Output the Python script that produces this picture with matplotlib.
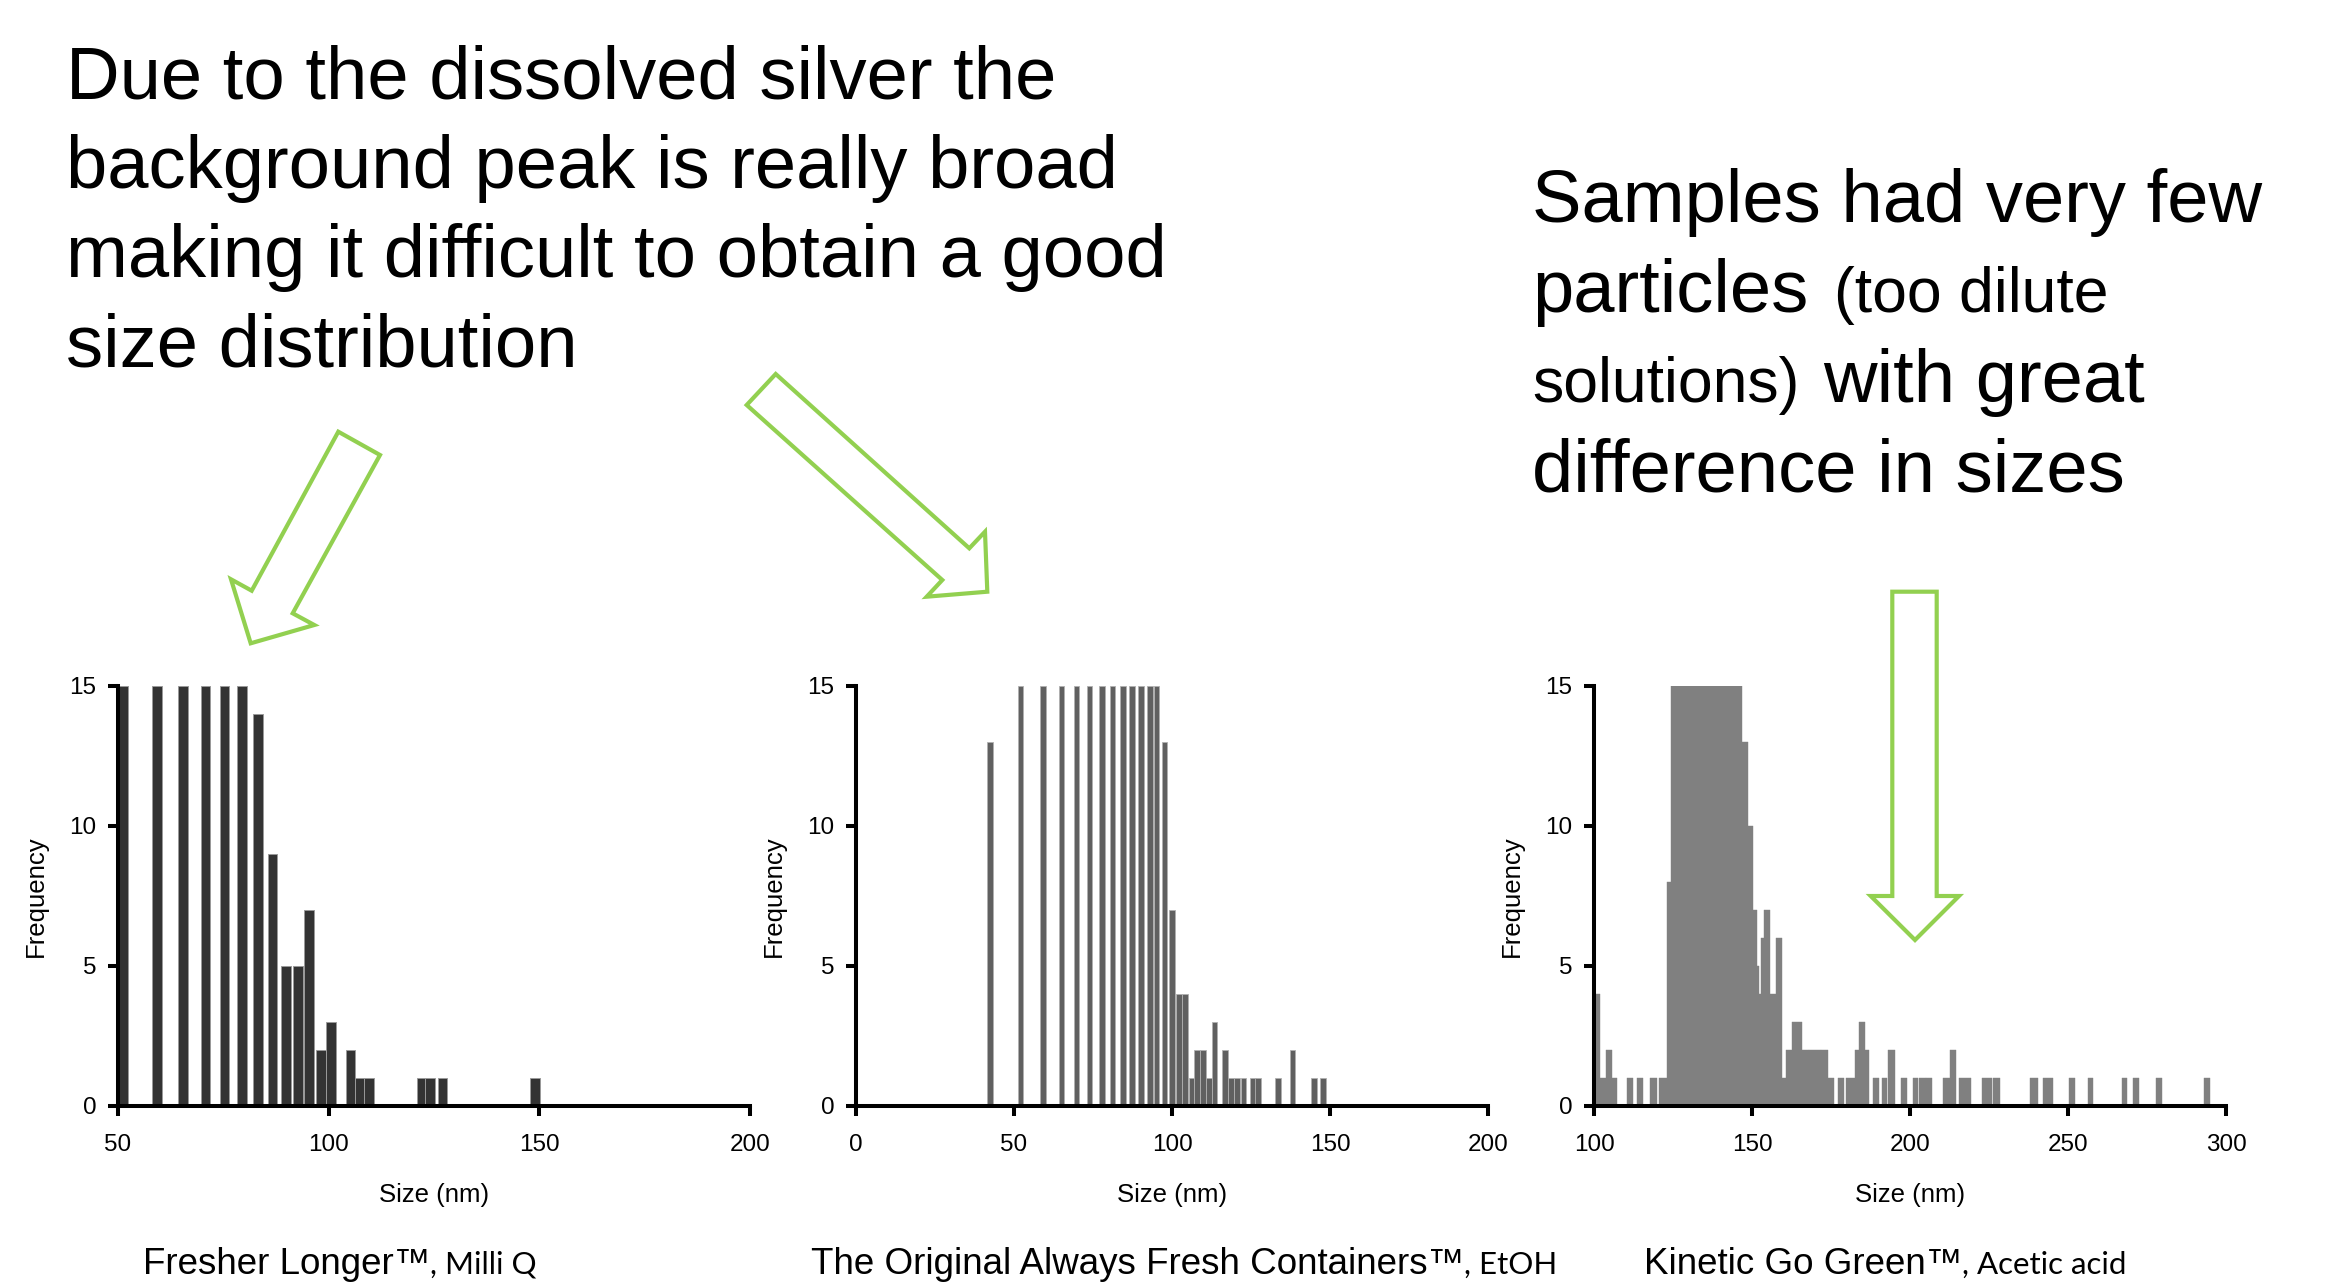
import matplotlib
matplotlib.use("Agg")
import matplotlib.pyplot as plt
from matplotlib.patches import Polygon

# ---------------- data ----------------
# Panel 1: Fresher Longer, Milli Q (bars clipped at 15)
p1_size = [51.2, 59.2, 65.5, 70.8, 75.3, 79.5, 83.3, 86.7, 89.8, 92.7, 95.4, 98.1,
           100.6, 105.2, 107.4, 109.5, 122.1, 124.1, 127.0, 148.9]
p1_freq = [15, 15, 15, 15, 15, 15, 14, 9, 5, 5, 7, 2,
           3, 2, 1, 1, 1, 1, 1, 1]
p1_binw = 2.3

# Panel 2: The Original Always Fresh Containers, EtOH
p2_size = [42.5, 52.1, 59.2, 65.0, 69.8, 73.9, 77.9, 81.2, 84.4, 87.4, 90.2, 93.0, 95.1,
           97.6, 99.9, 102.2, 104.1, 106.2, 108.0, 109.9, 111.7, 113.4, 116.7, 118.6,
           120.6, 122.6, 125.6, 127.2, 133.5, 138.1, 144.9, 147.8]
p2_freq = [13, 15, 15, 15, 15, 15, 15, 15, 15, 15, 15, 15, 15,
           13, 7, 4, 4, 1, 2, 2, 1, 3, 2, 1,
           1, 1, 1, 1, 1, 2, 1, 1]
p2_binw = 1.8

# Panel 3: Kinetic Go Green, Acetic acid (bin low / high edges in nm)
p3_lo = [100.0, 101.9, 103.7, 105.6, 110.3, 113.5, 117.7, 120.6, 123.2,
         124.5, 126.4, 128.2, 130.1, 131.9, 133.8, 135.6, 137.5, 139.3, 141.2, 143.0, 144.9,
         146.8, 148.6, 150.4, 151.5, 152.3, 152.9, 153.8, 155.7, 157.6, 159.6, 160.9,
         162.8, 165.7, 168.1, 171.7, 174.1, 177.2, 179.6, 182.6, 184.0, 185.8, 188.4,
         191.0, 193.1, 197.3, 200.8, 203.0, 205.0, 210.6, 212.6, 215.5, 222.9, 226.4,
         238.0, 242.2, 250.4, 256.2, 267.1, 270.6, 277.9, 293.1]
p3_hi = [101.9, 103.7, 105.6, 107.4, 112.3, 115.5, 119.8, 123.2, 124.5,
         126.4, 128.2, 130.1, 131.9, 133.8, 135.6, 137.5, 139.3, 141.2, 143.0, 144.9, 146.8,
         148.6, 150.4, 151.5, 152.3, 152.9, 153.8, 155.7, 157.6, 159.6, 160.9, 162.8,
         165.7, 168.1, 171.7, 174.1, 176.0, 179.1, 182.6, 184.0, 185.8, 187.0, 190.2,
         192.8, 195.1, 199.2, 202.5, 205.0, 206.9, 212.6, 214.6, 219.2, 226.1, 228.4,
         240.5, 245.1, 252.2, 258.0, 268.8, 272.4, 279.7, 295.0]
p3_freq = [4, 1, 2, 1, 1, 1, 1, 1, 8,
           15, 15, 15, 15, 15, 15, 15, 15, 15, 15, 15, 15,
           13, 10, 7, 5, 4, 6, 7, 4, 6, 1, 2,
           3, 2, 2, 2, 1, 1, 1, 2, 3, 2, 1,
           1, 2, 1, 1, 1, 1, 1, 2, 1, 1, 1,
           1, 1, 1, 1, 1, 1, 1, 1]

x_ticks1 = [50, 100, 150, 200]
x_ticks2 = [0, 50, 100, 150, 200]
x_ticks3 = [100, 150, 200, 250, 300]
y_ticks = [0, 5, 10, 15]

captions = [("Fresher Longer\u2122", ", Milli Q"),
            ("The Original Always Fresh Containers\u2122", ", EtOH"),
            ("Kinetic Go Green\u2122", ", Acetic acid")]

left_note = ["Due to the dissolved silver the",
             "background peak is really broad",
             "making it difficult to obtain a good",
             "size distribution"]

# ---------------- figure ----------------
W, H = 2333, 1288
fig = plt.figure(figsize=(W / 100, H / 100), dpi=100)
FONT = "Liberation Sans"
GREEN = "#92D050"


def px_axes(l, t, w, h):
    return fig.add_axes([l / W, 1 - (t + h) / H, w / W, h / H])


def style(ax, xlim, xticks):
    ax.set_xlim(*xlim)
    ax.set_ylim(0, 15)
    ax.set_xticks(xticks)
    ax.set_yticks(y_ticks)
    for s in ["top", "right"]:
        ax.spines[s].set_visible(False)
    for s in ["left", "bottom"]:
        ax.spines[s].set_linewidth(2.9)
        ax.spines[s].set_capstyle("projecting")
        ax.spines[s].set_zorder(5)
    ax.tick_params(axis="both", width=2.9, length=7.5, direction="out",
                   labelsize=17.5, colors="black")
    ax.tick_params(axis="x", pad=13)
    ax.tick_params(axis="y", pad=8)
    for lab in ax.get_xticklabels() + ax.get_yticklabels():
        lab.set_fontfamily(FONT)
    ax.text(0.5, -0.212, "Size (nm)", transform=ax.transAxes, ha="center",
            va="center", fontsize=18.5, family=FONT)
    ax.text(-0.13, 0.5, "Frequency", transform=ax.transAxes, ha="center",
            va="center", rotation=90, fontsize=18.5, family=FONT)
    ax.patch.set_visible(False)


AX_W, AX_T, AX_H = 632, 686, 420

ax1 = px_axes(118, AX_T, AX_W, AX_H)
ax1.bar(p1_size, p1_freq, width=p1_binw, color="#333333",
        edgecolor="#9a9a9a", linewidth=0.7, zorder=2)
style(ax1, (50, 200), x_ticks1)

ax2 = px_axes(856, AX_T, AX_W, AX_H)
ax2.bar(p2_size, p2_freq, width=p2_binw, color="#606060",
        edgecolor="#b0b0b0", linewidth=0.6, zorder=2)
style(ax2, (0, 200), x_ticks2)

ax3 = px_axes(1594, AX_T, AX_W, AX_H)
p3_w = [hi - lo for lo, hi in zip(p3_lo, p3_hi)]
ax3.bar(p3_lo, p3_freq, width=p3_w, align="edge", color="#808080",
        edgecolor="#808080", linewidth=0.3, zorder=2)
style(ax3, (100, 300), x_ticks3)

# ---------------- overlay for notes, arrows, captions ----------------
ov = fig.add_axes([0, 0, 1, 1], zorder=10)
ov.set_xlim(0, W)
ov.set_ylim(H, 0)
ov.axis("off")
ov.patch.set_visible(False)

BIG = 53.5
SMALL = 45

for i, line in enumerate(left_note):
    ov.text(66, 98 + i * 89.5, line, fontsize=BIG, family=FONT, va="baseline")

renderer = fig.canvas.get_renderer()


def seq(x, y, parts):
    """Draw text pieces one after another on the same baseline."""
    for txt, size, fam, gap in parts:
        t = ov.text(x + gap, y, txt, fontsize=size, family=fam, va="baseline")
        bb = t.get_window_extent(renderer)
        x = bb.x1


RX = 1532
ov.text(RX, 222, "Samples had very few", fontsize=BIG, family=FONT, va="baseline")
seq(RX, 312, [("particles", BIG, FONT, 0), ("(too dilute", SMALL, FONT, 26)])
seq(RX, 402, [("solutions)", SMALL, FONT, 0), ("with great", BIG, FONT, 24)])
ov.text(RX, 491, "difference in sizes", fontsize=BIG, family=FONT, va="baseline")

# captions
cap_x = [143, 811, 1644]
for (a, b), cx in zip(captions, cap_x):
    seq(cx, 1274, [(a, 26.5, FONT, 0), (b, 22.5, "Lato", 0)])

# block arrows (outline polygons in figure pixels)
arrows = [
    [(338.3, 431.7), (380, 455), (292.7, 613.3), (314.3, 625), (250.7, 643.3),
     (231, 579.3), (251.7, 590.7)],
    [(746.7, 405), (775.7, 374), (969.3, 548.3), (985, 531.7), (987.3, 591.7),
     (926.7, 596.7), (942.3, 580)],
    [(1892.3, 591.7), (1936.7, 591.7), (1936.7, 896), (1959, 896), (1915, 940),
     (1870.7, 896), (1892.3, 896)],
]
for pts in arrows:
    ov.add_patch(Polygon(pts, closed=True, fill=False, edgecolor=GREEN,
                         linewidth=3, joinstyle="miter"))

fig.savefig("out.png", dpi=100, facecolor="white")
